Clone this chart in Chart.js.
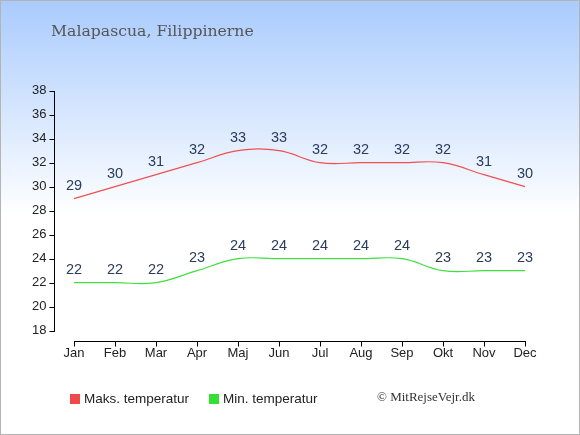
<!DOCTYPE html>
<html>
<head>
<meta charset="utf-8">
<script src="https://cdn.jsdelivr.net/npm/chart.js@4.4.0/dist/chart.umd.min.js"></script>
<style>
  body { margin: 0; }
  #wrap { position: relative; width: 580px; height: 435px;
          background: linear-gradient(to bottom, #a9cbfd 0px, #ffffff 215px, #ffffff 435px); }
  #frame { position: absolute; left: 0; top: 0; width: 580px; height: 435px;
           box-sizing: border-box; border: 1px solid #b4b4b4; pointer-events: none; }
  canvas { position: absolute; left: 0; top: 0; }
</style>
</head>
<body>
<div id="wrap">
  <canvas id="chart" width="580" height="435"></canvas>
  <div id="frame"></div>
</div>
<script>
// data
const months = ['Jan', 'Feb', 'Mar', 'Apr', 'Maj', 'Jun', 'Jul', 'Aug', 'Sep', 'Okt', 'Nov', 'Dec'];
const maxTemp = [29, 30, 31, 32, 33, 33, 32, 32, 32, 32, 31, 30];
const minTemp = [22, 22, 22, 23, 24, 24, 24, 24, 24, 23, 23, 23];
const yMin = 18;
const yMax = 38;
const yStep = 2;

const title = 'Malapascua, Filippinerne';
const legendItems = [
    { text: 'Maks. temperatur', color: '#f04848' },
    { text: 'Min. temperatur', color: '#33e033' }
];
const credit = '\u00A9 MitRejseVejr.dk';

// axes drawn by hand so they can stand apart like in the original
const extras = {
    id: 'extras',
    afterDraw(chart) {
        const ctx = chart.ctx;
        const x = chart.scales.x;
        const y = chart.scales.y;
        const area = chart.chartArea;
        ctx.save();
        ctx.strokeStyle = '#000';
        ctx.lineWidth = 1;

        // y axis
        const ax = Math.round(area.left) + 0.5;
        ctx.beginPath();
        ctx.moveTo(ax, Math.round(y.getPixelForValue(yMax)));
        ctx.lineTo(ax, Math.round(y.getPixelForValue(yMin)) + 1);
        for (let v = yMin; v <= yMax; v += yStep) {
            const py = Math.round(y.getPixelForValue(v)) + 0.5;
            ctx.moveTo(ax - 5, py);
            ctx.lineTo(ax, py);
        }
        ctx.stroke();

        // x axis
        const ay = Math.round(area.bottom) + 10.5;
        ctx.beginPath();
        ctx.moveTo(Math.round(x.getPixelForValue(0)), ay);
        ctx.lineTo(Math.round(x.getPixelForValue(months.length - 1)) + 1, ay);
        months.forEach((m, i) => {
            const px = Math.round(x.getPixelForValue(i)) + 0.5;
            ctx.moveTo(px, ay);
            ctx.lineTo(px, ay + 5);
        });
        ctx.stroke();

        // title
        ctx.fillStyle = '#555';
        ctx.font = '15.7px "DejaVu Serif"';
        ctx.textAlign = 'left';
        ctx.textBaseline = 'middle';
        ctx.fillText(title, 51, 32);

        // legend
        ctx.font = '13.5px "Liberation Sans"';
        let lx = 70;
        legendItems.forEach(item => {
            ctx.fillStyle = item.color;
            ctx.fillRect(lx, 394, 10, 10);
            ctx.fillStyle = '#222';
            ctx.fillText(item.text, lx + 14, 399);
            lx += 139;
        });

        // credit
        ctx.fillStyle = '#333';
        ctx.font = '13px "Liberation Serif"';
        ctx.fillText(credit, 377, 398);
        ctx.restore();
    },
    afterDatasetsDraw(chart) {
        const ctx = chart.ctx;
        ctx.save();
        ctx.fillStyle = '#2a3b5c';
        ctx.font = '14.5px "Liberation Sans"';
        ctx.textAlign = 'center';
        ctx.textBaseline = 'middle';
        chart.data.datasets.forEach((ds, di) => {
            chart.getDatasetMeta(di).data.forEach((pt, i) => {
                ctx.fillText(String(ds.data[i]), pt.x, pt.y - 13);
            });
        });
        ctx.restore();
    }
};

new Chart(document.getElementById('chart'), {
    type: 'line',
    data: {
        labels: months,
        datasets: [
            {
                label: legendItems[0].text,
                data: maxTemp,
                borderColor: '#f05050',
                borderWidth: 1.2,
                pointRadius: 0,
                tension: 0.4,
                fill: false
            },
            {
                label: legendItems[1].text,
                data: minTemp,
                borderColor: '#3ee03e',
                borderWidth: 1.2,
                pointRadius: 0,
                tension: 0.4,
                fill: false
            }
        ]
    },
    options: {
        responsive: false,
        animation: false,
        events: [],
        layout: { padding: { left: 0, right: 34.5, top: 90.7, bottom: 74.3 } },
        scales: {
            x: {
                offset: true,
                grid: { display: false, drawTicks: false },
                border: { display: false },
                ticks: { color: '#222', font: { family: 'Liberation Sans', size: 13 }, padding: 15, maxRotation: 0 },
                afterFit(scale) { scale.height = 30; }
            },
            y: {
                min: yMin,
                max: yMax,
                grid: { display: false, drawTicks: false },
                border: { display: false },
                ticks: { stepSize: yStep, color: '#222', font: { family: 'Liberation Sans', size: 13 }, padding: 7 },
                afterFit(scale) { scale.width = 53.5; }
            }
        },
        plugins: {
            legend: { display: false },
            tooltip: { enabled: false }
        }
    },
    plugins: [extras]
});
</script>
</body>
</html>
